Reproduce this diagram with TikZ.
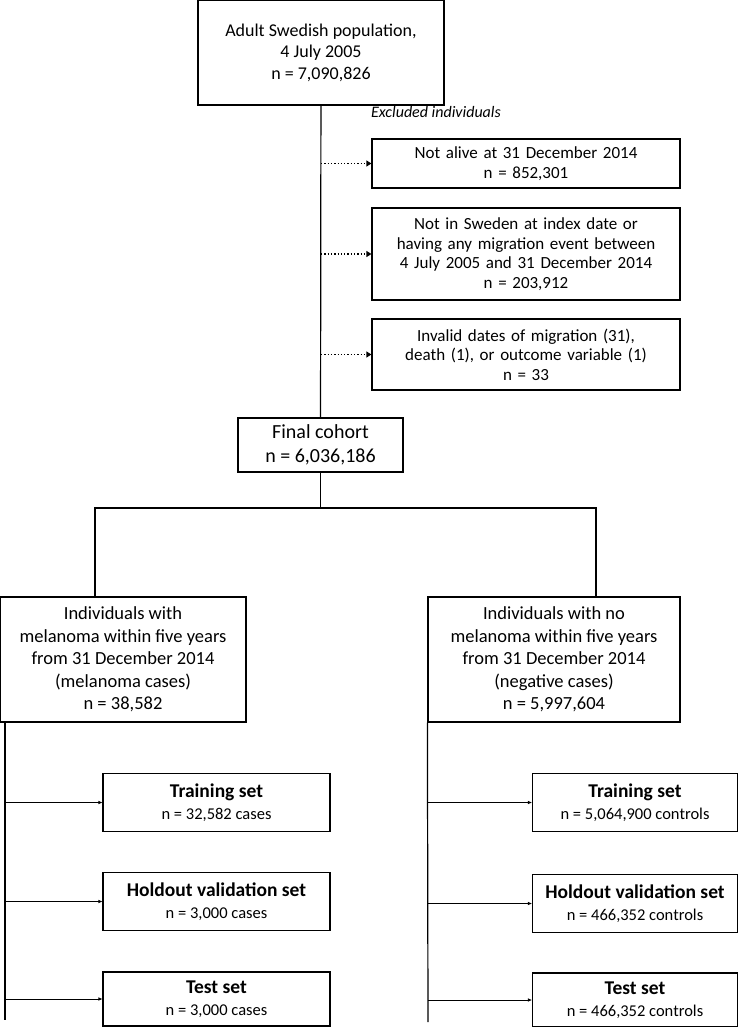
\documentclass[tikz,border=0pt]{standalone}
\usepackage{fontspec}
\setmainfont{Carlito}
\usetikzlibrary{arrows.meta}
\newcommand\hdtext[1]{{\bfseries\fontsize{19.5}{22}\selectfont #1}}
\begin{document}
\begin{tikzpicture}[x=1pt,y=-1pt,
  box/.style={draw,line width=1.2pt,align=center,inner sep=2pt,font=\fontsize{17}{19.5}\selectfont},
  sbox/.style={box,text width=302pt,minimum width=308pt},
  bigbox/.style={box,font=\fontsize{18.5}{22.5}\selectfont,minimum height=125pt},
  leaf/.style={box,minimum height=58pt,font=\fontsize{16.5}{22}\selectfont},
  excl/.style={-{Triangle[length=5pt,width=6pt]},line width=1.3pt,dotted},
  feed/.style={-{Triangle[length=4pt,width=3pt]},line width=1pt}]
\useasboundingbox (0,0) rectangle (738,1027);

\node[box,font=\fontsize{18}{21.5}\selectfont,minimum width=246pt,minimum height=105pt] at (321,52.5) (pop) {Adult Swedish population,\\4 July 2005\\n = 7,090,826};
\node[font=\itshape\fontsize{16}{18}\selectfont] at (436,112) (exlab) {Excluded individuals};

\node[sbox,minimum height=49pt] at (526,163.5) (alive) {Not alive at 31 December 2014\\n = 852,301};
\node[sbox,minimum height=92pt] at (526,254) (migr) {Not in Sweden at index date or\\having any migration event between\\4 July 2005 and 31 December 2014\\n = 203,912};
\node[sbox,minimum height=71pt] at (526,354.5) (inval) {Invalid dates of migration (31),\\death (1), or outcome variable (1)\\n = 33};

\node[box,font=\fontsize{20}{24}\selectfont,minimum width=165pt,minimum height=54pt] at (320.5,445) (final) {Final cohort\\n = 6,036,186};

\node[bigbox,minimum width=246pt] at (123,659.5) (mel) {Individuals with\\melanoma within five years\\from 31 December 2014\\(melanoma cases)\\n = 38,582};
\node[bigbox,minimum width=252pt] at (554,659.5) (neg) {Individuals with no\\melanoma within five years\\from 31 December 2014\\(negative cases)\\n = 5,997,604};

\node[leaf,minimum width=227pt] at (216.5,802.5) (mtrain) {\hdtext{Training set}\\n = 32,582 cases};
\node[leaf,minimum width=227pt] at (216.5,901.5) (mhold) {\hdtext{Holdout validation set}\\n = 3,000 cases};
\node[leaf,minimum width=227pt,minimum height=54pt] at (216.5,999) (mtest) {\hdtext{Test set}\\n = 3,000 cases};

\node[leaf,minimum width=205pt] at (635,802.5) (ntrain) {\hdtext{Training set}\\n = 5,064,900 controls};
\node[leaf,minimum width=205pt] at (635,903.5) (nhold) {\hdtext{Holdout validation set}\\n = 466,352 controls};
\node[leaf,minimum width=205pt,minimum height=54pt] at (635,1000) (ntest) {\hdtext{Test set}\\n = 466,352 controls};

% trunk and exclusions
\draw[line width=1.2pt] (pop) -- (final);
\foreach \n in {alive,migr,inval}
  \draw[excl] (pop.south |- \n.west) -- (\n.west);

% split
\coordinate (split) at (320.5,508);
\draw[line width=1.2pt] (final) -- (split);
\draw[line width=1.2pt] (mel.north -| 95,0) |- (split) -| (neg.north -| 596,0);

% branches
\coordinate (lend) at (5,1020);
\coordinate (rend) at (428,1022);
\draw[line width=1.2pt] (mel.south -| lend) -- (lend);
\draw[line width=1.2pt] (neg.south west) -- (rend);
\foreach \n in {mtrain,mhold,mtest}
  \draw[feed] (lend |- \n.west) -- (\n.west);
\foreach \n in {ntrain,nhold,ntest}
  \draw[feed] (rend |- \n.west) -- (\n.west);
\end{tikzpicture}
\end{document}
